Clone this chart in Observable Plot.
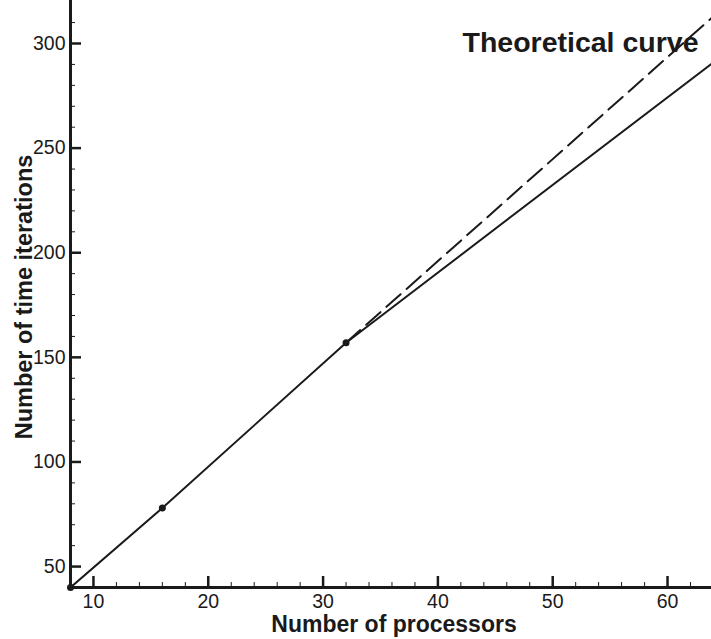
<!DOCTYPE html>
<html><head>
<meta charset="utf-8">
<script src="https://cdn.jsdelivr.net/npm/d3@7"></script>
<script src="https://cdn.jsdelivr.net/npm/@observablehq/plot@0.6"></script>
<style>
html,body{margin:0;padding:0;background:#fff;}
</style>
</head><body>
<div id="chart"></div>
<script>
// Measured speed-up data
const processors = [8, 16, 32, 64];
const iterations = [40, 78, 157, 291];
// Theoretical (ideal) curve, drawn dashed
const theoProcessors = [32, 64];
const theoIterations = [157, 313];
// Ticks
const xMajorTicks = [10, 20, 30, 40, 50, 60];
const xMinorTicks = [12, 14, 16, 18, 22, 24, 26, 28, 32, 34, 36, 38, 42, 44, 46, 48, 52, 54, 56, 58, 62];
const yMajorTicks = [50, 100, 150, 200, 250, 300];
const yMinorTicks = [60, 70, 80, 90, 110, 120, 130, 140, 160, 170, 180, 190, 210, 220, 230, 240, 260, 270, 280, 290, 310];
const xLabel = "Number of processors";
const yLabel = "Number of time iterations";
const curveLabel = "Theoretical curve";

const measured = processors.map((p, i) => ({p, n: iterations[i]}));
const theoretical = theoProcessors.map((p, i) => ({p, n: theoIterations[i]}));
const dotted = measured.slice(0, 3);

const W = 711, H = 639, mL = 70, mR = 0, mT = 0, mB = 52;
const plotW = W - mL - mR, plotH = H - mT - mB;
const ink = "#1a1a1a";

const chart = Plot.plot({
  width: W, height: H,
  marginLeft: mL, marginRight: mR, marginTop: mT, marginBottom: mB,
  x: {domain: [8, 63.83]},
  y: {domain: [40, 320.55]},
  style: {fontFamily: "'Liberation Sans', Arial, Helvetica, sans-serif", background: "#fff", color: ink},
  marks: [
    Plot.tickX(xMajorTicks, {x: d => d, insetTop: plotH - 11, stroke: ink, strokeWidth: 2.5}),
    Plot.tickX(xMinorTicks, {x: d => d, insetTop: plotH - 5, stroke: ink, strokeWidth: 1}),
    Plot.tickY(yMajorTicks, {y: d => d, insetRight: plotW - 11, stroke: ink, strokeWidth: 2.5}),
    Plot.tickY(yMinorTicks, {y: d => d, insetRight: plotW - 5, stroke: ink, strokeWidth: 1}),
    Plot.axisX({ticks: xMajorTicks, tickSize: 0, tickPadding: 7, fontSize: 19.5, label: null, fill: ink}),
    Plot.axisY({ticks: yMajorTicks, tickSize: 0, tickPadding: 5, fontSize: 19.5, label: null, fill: ink}),
    Plot.ruleY([40], {stroke: ink, strokeWidth: 3}),
    Plot.ruleX([8], {stroke: ink, strokeWidth: 3}),
    Plot.line(theoretical, {x: "p", y: "n", stroke: ink, strokeWidth: 2, strokeDasharray: "19,8", clip: true}),
    Plot.line(measured, {x: "p", y: "n", stroke: ink, strokeWidth: 2, clip: true}),
    Plot.dot(dotted, {x: "p", y: "n", r: 3.5, fill: ink, stroke: "none"}),
    Plot.text([xLabel], {frameAnchor: "bottom", dx: 3, dy: 37.5, lineAnchor: "middle", fontSize: 23, fontWeight: "bold", fill: ink}),
    Plot.text([yLabel], {frameAnchor: "left", textAnchor: "middle", dx: -46, dy: 3, rotate: -90, lineAnchor: "middle", fontSize: 23.5, fontWeight: "bold", fill: ink}),
    Plot.text([curveLabel], {frameAnchor: "top-right", textAnchor: "end", dx: -13, dy: 42, lineAnchor: "middle", fontSize: 28.5, fontWeight: "bold", fill: ink})
  ]
});
document.getElementById("chart").appendChild(chart);
</script>
</body></html>
